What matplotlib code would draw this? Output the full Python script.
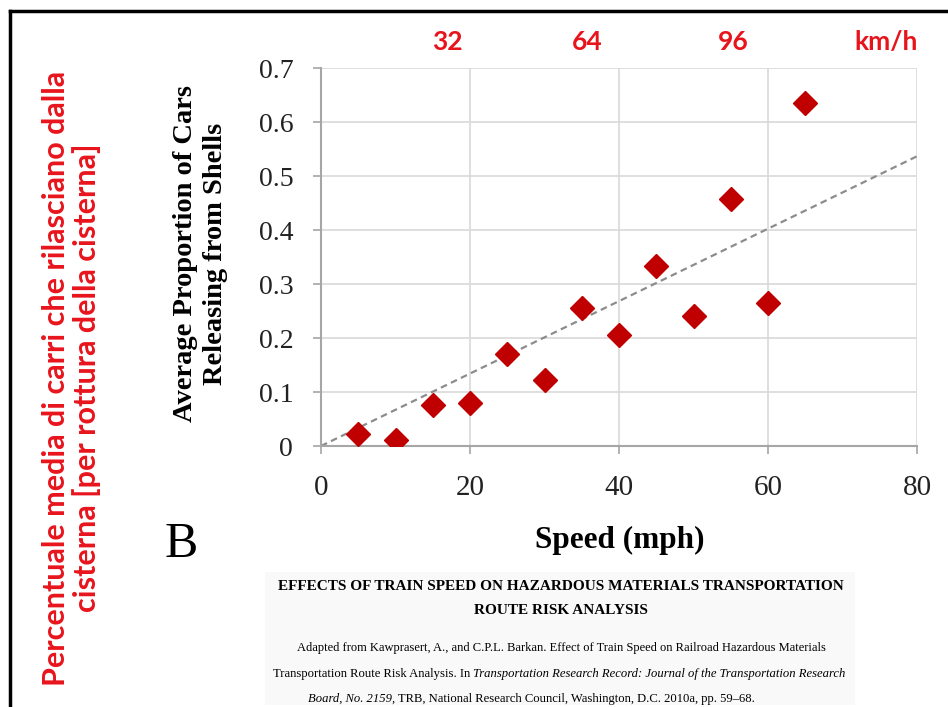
import matplotlib
import matplotlib.pyplot as plt
import numpy as np
from matplotlib.lines import Line2D

matplotlib.use("Agg")

speed_mph = [5, 10, 15, 20, 25, 30, 35, 40, 45, 50, 55, 60, 65]
prop_release = [0.022, 0.011, 0.076, 0.080, 0.170, 0.123, 0.255, 0.205,
                0.333, 0.240, 0.457, 0.265, 0.635]
xticks = [0, 20, 40, 60, 80]
yticks = [0, 0.1, 0.2, 0.3, 0.4, 0.5, 0.6, 0.7]
ytick_labels = ["0", "0.1", "0.2", "0.3", "0.4", "0.5", "0.6", "0.7"]
kmh_labels = ["32", "64", "96", "km/h"]
kmh_xpos = [447, 587, 733, 886]

serif = "Liberation Serif"
red = "#e8141c"

fig = plt.figure(figsize=(9.48, 7.07), dpi=100)
W, H = 948, 707


def fx(px):
    return px / W


def fy(py):
    return 1 - py / H


ax = fig.add_axes([fx(321), fy(446), fx(917) - fx(321), fy(68) - fy(446)])

x = np.array(speed_mph, dtype=float)
y = np.array(prop_release)
# trend line through origin (least squares)
slope = np.sum(x * y) / np.sum(x * x)
xt = np.array([0, 80])
ax.plot(xt, slope * xt, ls=(0, (3, 2)), color="#8c8c8c", lw=1.6, zorder=2)
ax.plot(x, y, ls="none", marker="D", ms=12, color="#c00000", zorder=3)

ax.set_xlim(0, 80)
ax.set_ylim(0, 0.7)
ax.set_xticks(xticks)
ax.set_yticks(yticks)
ax.set_yticklabels(ytick_labels)
ax.grid(True, color="#d9d9d9", lw=1.2)
ax.set_axisbelow(True)
for s in ["top", "right"]:
    ax.spines[s].set_visible(False)
for s in ["left", "bottom"]:
    ax.spines[s].set_color("#a6a6a6")
    ax.spines[s].set_linewidth(1.5)
ax.tick_params(axis="both", colors="#a6a6a6", length=6, width=1.2,
               labelcolor="#222222")
ax.tick_params(axis="y", labelsize=20, pad=14)
ax.tick_params(axis="x", labelsize=21, pad=15)
for lab in ax.get_xticklabels() + ax.get_yticklabels():
    lab.set_fontfamily(serif)

fig.text(fx(185), fy(253), "Average Proportion of Cars", rotation=90,
         ha="center", va="center", family=serif, weight="bold", fontsize=20.5)
fig.text(fx(215), fy(254), "Releasing from Shells", rotation=90,
         ha="center", va="center", family=serif, weight="bold", fontsize=20.5)
fig.text(fx(620), fy(540), "Speed (mph)", ha="center", va="center",
         family=serif, weight="bold", fontsize=22.5)
fig.text(fx(181), fy(545), "B", ha="center", va="center", family=serif,
         fontsize=36)

for lab, px in zip(kmh_labels, kmh_xpos):
    fig.text(fx(px), fy(42), lab, ha="center", va="center", color=red,
             family="Lato", weight="bold", fontsize=19)

fig.text(fx(56), fy(378), "Percentuale media di carri che rilasciano dalla",
         rotation=90, ha="center", va="center", color=red, family="Lato",
         weight="bold", fontsize=22)
fig.text(fx(87), fy(378), "cisterna [per rottura della cisterna]",
         rotation=90, ha="center", va="center", color=red, family="Lato",
         weight="bold", fontsize=22)

# caption box
fig.patches.append(plt.Rectangle((fx(265), fy(705)), fx(855) - fx(265),
                                 fy(572) - fy(705), transform=fig.transFigure,
                                 facecolor="#f9f9f9", edgecolor="none",
                                 zorder=0))
fig.text(fx(561), fy(587), "EFFECTS OF TRAIN SPEED ON HAZARDOUS MATERIALS TRANSPORTATION",
         ha="center", va="center", family=serif, weight="bold", fontsize=11)
fig.text(fx(561), fy(610), "ROUTE RISK ANALYSIS", ha="center", va="center",
         family=serif, weight="bold", fontsize=11)
fig.text(fx(561), fy(648),
         "Adapted from Kawprasert, A., and C.P.L. Barkan. Effect of Train Speed on Railroad Hazardous Materials",
         ha="center", va="center", family=serif, fontsize=9)


def chain(pieces, x0, yc):
    # lay out roman / italic pieces one after another on one line
    renderer = fig.canvas.get_renderer()
    xpos = fx(x0)
    for txt, sty in pieces:
        t = fig.text(xpos, fy(yc), txt, ha="left", va="baseline",
                     family=serif, style=sty, fontsize=9.1)
        bb = t.get_window_extent(renderer)
        xpos = bb.x1 / W


chain([("Transportation Route Risk Analysis. In ", "normal"),
       ("Transportation Research Record: Journal of the Transportation Research", "italic")],
      273, 677)
chain([("Board, No. 2159,", "italic"),
       (" TRB, National Research Council, Washington, D.C. 2010a, pp. 59\u201368.", "normal")],
      308, 702)

# frame
fig.add_artist(Line2D([fx(10), fx(10)], [0, fy(11)], color="black", lw=2.5))
fig.add_artist(Line2D([fx(10), 1], [fy(11), fy(11)], color="black", lw=2.5))

fig.savefig("out.png", dpi=100)
